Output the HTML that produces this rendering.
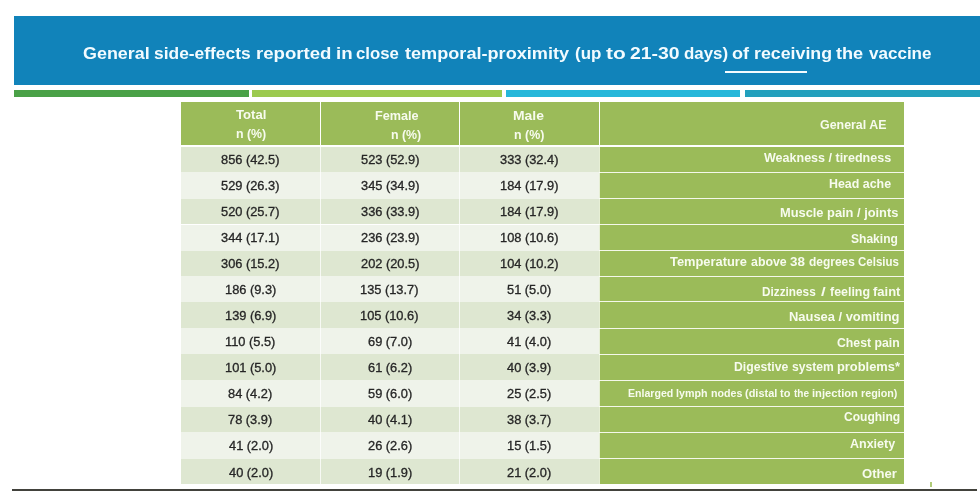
<!DOCTYPE html>
<html lang="en"><head><meta charset="utf-8"><title>General side-effects</title>
<style>
html,body{margin:0;padding:0;background:#fff;}
html{overflow:hidden;}
body{width:980px;height:501px;position:relative;overflow:hidden;font-family:"Liberation Sans",sans-serif;}
.b{position:absolute;}
.t,.w{position:absolute;white-space:nowrap;line-height:1;transform-origin:0 0;}
.lab{position:absolute;left:0;top:0;font-weight:bold;}
h1{margin:0;padding:0;position:absolute;left:0;top:0;font-size:17.2px;font-weight:bold;}
#s{position:absolute;left:0;top:0;width:1010px;height:530px;filter:blur(0.4px);}
</style></head><body><div id="s">
<div class="b" style="left:14px;top:16.3px;width:996px;height:68.4px;background:#1183ba"></div>
<div class="b" style="left:14px;top:89.8px;width:234.8px;height:7.2px;background:#4aa147"></div>
<div class="b" style="left:252.2px;top:89.8px;width:250.1px;height:7.2px;background:#9cca4f"></div>
<div class="b" style="left:506px;top:89.8px;width:234.2px;height:7.2px;background:#26b7da"></div>
<div class="b" style="left:745px;top:89.8px;width:265.0px;height:7.2px;background:#22a0bd"></div>
<div class="b" style="left:725.2px;top:70.6px;width:81.5px;height:2.7px;background:#f4fbff"></div>
<div class="b" style="left:181.1px;top:102.4px;width:723.2px;height:42.2px;background:#9bbb59"></div>
<div class="b" style="left:181.1px;top:147.30px;width:418.2px;height:24.90px;background:#dee7d1"></div>
<div class="b" style="left:181.1px;top:172.20px;width:418.2px;height:26.40px;background:#eff3ea"></div>
<div class="b" style="left:181.1px;top:198.60px;width:418.2px;height:25.90px;background:#dee7d1"></div>
<div class="b" style="left:181.1px;top:224.50px;width:418.2px;height:26.00px;background:#eff3ea"></div>
<div class="b" style="left:181.1px;top:250.50px;width:418.2px;height:25.70px;background:#dee7d1"></div>
<div class="b" style="left:181.1px;top:276.20px;width:418.2px;height:26.10px;background:#eff3ea"></div>
<div class="b" style="left:181.1px;top:302.30px;width:418.2px;height:25.70px;background:#dee7d1"></div>
<div class="b" style="left:181.1px;top:328.00px;width:418.2px;height:26.20px;background:#eff3ea"></div>
<div class="b" style="left:181.1px;top:354.20px;width:418.2px;height:26.10px;background:#dee7d1"></div>
<div class="b" style="left:181.1px;top:380.30px;width:418.2px;height:26.40px;background:#eff3ea"></div>
<div class="b" style="left:181.1px;top:406.70px;width:418.2px;height:25.30px;background:#dee7d1"></div>
<div class="b" style="left:181.1px;top:432.00px;width:418.2px;height:26.60px;background:#eff3ea"></div>
<div class="b" style="left:181.1px;top:458.60px;width:418.2px;height:25.10px;background:#dee7d1"></div>
<div class="b" style="left:599.3px;top:147.3px;width:305.0px;height:336.4px;background:#9bbb59"></div>
<div class="b" style="left:599.3px;top:171.5px;width:305.0px;height:1px;background:#f4f8ea"></div>
<div class="b" style="left:599.3px;top:198.0px;width:305.0px;height:1px;background:#f4f8ea"></div>
<div class="b" style="left:599.3px;top:224.2px;width:305.0px;height:1px;background:#f4f8ea"></div>
<div class="b" style="left:599.3px;top:250.1px;width:305.0px;height:1px;background:#f4f8ea"></div>
<div class="b" style="left:599.3px;top:275.9px;width:305.0px;height:1px;background:#f4f8ea"></div>
<div class="b" style="left:599.3px;top:301.4px;width:305.0px;height:1px;background:#f4f8ea"></div>
<div class="b" style="left:599.3px;top:327.6px;width:305.0px;height:1px;background:#f4f8ea"></div>
<div class="b" style="left:599.3px;top:353.9px;width:305.0px;height:1px;background:#f4f8ea"></div>
<div class="b" style="left:599.3px;top:379.8px;width:305.0px;height:1px;background:#f4f8ea"></div>
<div class="b" style="left:599.3px;top:405.8px;width:305.0px;height:1px;background:#f4f8ea"></div>
<div class="b" style="left:599.3px;top:431.5px;width:305.0px;height:1px;background:#f4f8ea"></div>
<div class="b" style="left:599.3px;top:457.9px;width:305.0px;height:1px;background:#f4f8ea"></div>
<div class="b" style="left:319.9px;top:102.4px;width:1.2px;height:44.9px;background:#fff"></div>
<div class="b" style="left:319.9px;top:147.3px;width:1.2px;height:336.4px;background:rgba(255,255,255,.75)"></div>
<div class="b" style="left:458.9px;top:102.4px;width:1.2px;height:44.9px;background:#fff"></div>
<div class="b" style="left:458.9px;top:147.3px;width:1.2px;height:336.4px;background:rgba(255,255,255,.75)"></div>
<div class="b" style="left:598.7px;top:102.4px;width:1.2px;height:44.9px;background:#fff"></div>
<div class="b" style="left:598.7px;top:147.3px;width:1.2px;height:336.4px;background:rgba(255,255,255,.75)"></div>
<h1 style="color:#f2fbff">
<span class="w" style="left:82.58px;top:45px;transform:scaleX(1.0420)">General</span> 
<span class="w" style="left:154.00px;top:45px;transform:scaleX(1.0121)">side-effects</span> 
<span class="w" style="left:255.90px;top:45px;transform:scaleX(1.0827)">reported</span> 
<span class="w" style="left:335.59px;top:45px;transform:scaleX(1.0863)">in</span> 
<span class="w" style="left:356.43px;top:45px;transform:scaleX(0.9752)">close</span> 
<span class="w" style="left:404.92px;top:45px;transform:scaleX(1.0541)">temporal-proximity</span> 
<span class="w" style="left:574.85px;top:45px;transform:scaleX(0.9836)">(up</span> 
<span class="w" style="left:606.49px;top:45px;transform:scaleX(1.2151)">to</span> 
<span class="w" style="left:630.32px;top:45px;transform:scaleX(1.1278)">21-30</span> 
<span class="w" style="left:684.12px;top:45px;transform:scaleX(0.9828)">days)</span> 
<span class="w" style="left:732.38px;top:45px;transform:scaleX(1.0530)">of</span> 
<span class="w" style="left:754.05px;top:45px;transform:scaleX(1.0342)">receiving</span> 
<span class="w" style="left:836.32px;top:45px;transform:scaleX(1.0553)">the</span> 
<span class="w" style="left:868.93px;top:45px;transform:scaleX(0.9909)">vaccine</span> 
</h1>
<div class="t" style="left:235.97px;top:109px;font-size:12px;font-weight:bold;color:#f7fbee;transform:scaleX(1.0949)">Total</div>
<div class="t" style="left:235.83px;top:128px;font-size:12px;font-weight:bold;color:#f7fbee;transform:scaleX(1.0309)">n (%)</div>
<div class="t" style="left:374.62px;top:110px;font-size:12px;font-weight:bold;color:#f7fbee;transform:scaleX(1.0529)">Female</div>
<div class="t" style="left:391.03px;top:129px;font-size:12px;font-weight:bold;color:#f7fbee;transform:scaleX(1.0309)">n (%)</div>
<div class="t" style="left:513.43px;top:110px;font-size:12px;font-weight:bold;color:#f7fbee;transform:scaleX(1.1596)">Male</div>
<div class="t" style="left:513.53px;top:129px;font-size:12px;font-weight:bold;color:#f7fbee;transform:scaleX(1.0345)">n (%)</div>
<div class="t" style="left:820.30px;top:119px;font-size:12px;font-weight:bold;color:#f7fbee;transform:scaleX(1.0338)">General AE</div>
<div class="t" style="left:764.00px;top:152px;font-size:12px;font-weight:bold;color:#f7fbee;transform:scaleX(1.0435)">Weakness / tiredness</div>
<div class="t" style="left:828.93px;top:178px;font-size:12px;font-weight:bold;color:#f7fbee;transform:scaleX(1.0340)">Head ache</div>
<div class="t" style="left:780.40px;top:207px;font-size:12px;font-weight:bold;color:#f7fbee;transform:scaleX(1.0693)">Muscle pain / joints</div>
<div class="t" style="left:850.74px;top:233px;font-size:12px;font-weight:bold;color:#f7fbee;transform:scaleX(1.0048)">Shaking</div>
<div class="lab" style="font-size:12px;color:#f7fbee">
<span class="w" style="left:669.67px;top:256px;transform:scaleX(1.0718)">Temperature</span> 
<span class="w" style="left:750.73px;top:256px;transform:scaleX(1.0306)">above</span> 
<span class="w" style="left:790.03px;top:256px;transform:scaleX(1.1164)">38</span> 
<span class="w" style="left:808.92px;top:256px;transform:scaleX(0.9956)">degrees</span> 
<span class="w" style="left:857.94px;top:256px;transform:scaleX(0.9582)">Celsius</span> 
</div>
<div class="lab" style="font-size:12px;color:#f7fbee">
<span class="w" style="left:762.38px;top:286px;transform:scaleX(0.9816)">Dizziness</span> 
<span class="w" style="left:820.75px;top:286px;transform:scaleX(1.4000)">/</span> 
<span class="w" style="left:829.75px;top:286px;transform:scaleX(1.0350)">feeling</span> 
<span class="w" style="left:872.64px;top:286px;transform:scaleX(1.0817)">faint</span> 
</div>
<div class="t" style="left:789.40px;top:311px;font-size:12px;font-weight:bold;color:#f7fbee;transform:scaleX(1.0758)">Nausea / vomiting</div>
<div class="t" style="left:836.71px;top:337px;font-size:12px;font-weight:bold;color:#f7fbee;transform:scaleX(1.0213)">Chest pain</div>
<div class="lab" style="font-size:12px;color:#f7fbee">
<span class="w" style="left:733.65px;top:361px;transform:scaleX(1.0177)">Digestive</span> 
<span class="w" style="left:791.51px;top:361px;transform:scaleX(1.0105)">system</span> 
<span class="w" style="left:836.50px;top:361px;transform:scaleX(1.0719)">problems*</span> 
</div>
<div class="lab" style="font-size:10.4px;color:#f7fbee">
<span class="w" style="left:628.16px;top:389px;transform:scaleX(1.0196)">Enlarged</span> 
<span class="w" style="left:675.55px;top:389px;transform:scaleX(1.0300)">lymph</span> 
<span class="w" style="left:710.75px;top:389px;transform:scaleX(1.0261)">nodes</span> 
<span class="w" style="left:744.65px;top:389px;transform:scaleX(1.0570)">(distal</span> 
<span class="w" style="left:779.89px;top:389px;transform:scaleX(1.0588)">to</span> 
<span class="w" style="left:793.80px;top:389px;transform:scaleX(0.9681)">the</span> 
<span class="w" style="left:812.32px;top:389px;transform:scaleX(1.0751)">injection</span> 
<span class="w" style="left:860.85px;top:389px;transform:scaleX(1.0351)">region)</span> 
</div>
<div class="t" style="left:843.52px;top:411px;font-size:12px;font-weight:bold;color:#f7fbee;transform:scaleX(1.0033)">Coughing</div>
<div class="t" style="left:849.93px;top:438px;font-size:12px;font-weight:bold;color:#f7fbee;transform:scaleX(1.0411)">Anxiety</div>
<div class="t" style="left:862.28px;top:468px;font-size:12px;font-weight:bold;color:#f7fbee;transform:scaleX(1.0920)">Other</div>
<div class="t" style="left:221.21px;top:154px;font-size:12px;font-weight:normal;color:#262626;-webkit-text-stroke:0.3px #262626;transform:scaleX(1.0680)">856 (42.5)</div>
<div class="t" style="left:360.71px;top:154px;font-size:12px;font-weight:normal;color:#262626;-webkit-text-stroke:0.3px #262626;transform:scaleX(1.0680)">523 (52.9)</div>
<div class="t" style="left:500.11px;top:154px;font-size:12px;font-weight:normal;color:#262626;-webkit-text-stroke:0.3px #262626;transform:scaleX(1.0680)">333 (32.4)</div>
<div class="t" style="left:221.21px;top:180px;font-size:12px;font-weight:normal;color:#262626;-webkit-text-stroke:0.3px #262626;transform:scaleX(1.0680)">529 (26.3)</div>
<div class="t" style="left:360.71px;top:180px;font-size:12px;font-weight:normal;color:#262626;-webkit-text-stroke:0.3px #262626;transform:scaleX(1.0680)">345 (34.9)</div>
<div class="t" style="left:499.85px;top:180px;font-size:12px;font-weight:normal;color:#262626;-webkit-text-stroke:0.3px #262626;transform:scaleX(1.0680)">184 (17.9)</div>
<div class="t" style="left:221.21px;top:206px;font-size:12px;font-weight:normal;color:#262626;-webkit-text-stroke:0.3px #262626;transform:scaleX(1.0680)">520 (25.7)</div>
<div class="t" style="left:360.71px;top:206px;font-size:12px;font-weight:normal;color:#262626;-webkit-text-stroke:0.3px #262626;transform:scaleX(1.0680)">336 (33.9)</div>
<div class="t" style="left:499.85px;top:206px;font-size:12px;font-weight:normal;color:#262626;-webkit-text-stroke:0.3px #262626;transform:scaleX(1.0680)">184 (17.9)</div>
<div class="t" style="left:221.21px;top:232px;font-size:12px;font-weight:normal;color:#262626;-webkit-text-stroke:0.3px #262626;transform:scaleX(1.0680)">344 (17.1)</div>
<div class="t" style="left:360.64px;top:232px;font-size:12px;font-weight:normal;color:#262626;-webkit-text-stroke:0.3px #262626;transform:scaleX(1.0680)">236 (23.9)</div>
<div class="t" style="left:499.85px;top:232px;font-size:12px;font-weight:normal;color:#262626;-webkit-text-stroke:0.3px #262626;transform:scaleX(1.0680)">108 (10.6)</div>
<div class="t" style="left:221.21px;top:258px;font-size:12px;font-weight:normal;color:#262626;-webkit-text-stroke:0.3px #262626;transform:scaleX(1.0680)">306 (15.2)</div>
<div class="t" style="left:360.64px;top:258px;font-size:12px;font-weight:normal;color:#262626;-webkit-text-stroke:0.3px #262626;transform:scaleX(1.0680)">202 (20.5)</div>
<div class="t" style="left:499.85px;top:258px;font-size:12px;font-weight:normal;color:#262626;-webkit-text-stroke:0.3px #262626;transform:scaleX(1.0680)">104 (10.2)</div>
<div class="t" style="left:224.54px;top:284px;font-size:12px;font-weight:normal;color:#262626;-webkit-text-stroke:0.3px #262626;transform:scaleX(1.0680)">186 (9.3)</div>
<div class="t" style="left:360.45px;top:284px;font-size:12px;font-weight:normal;color:#262626;-webkit-text-stroke:0.3px #262626;transform:scaleX(1.0680)">135 (13.7)</div>
<div class="t" style="left:507.28px;top:284px;font-size:12px;font-weight:normal;color:#262626;-webkit-text-stroke:0.3px #262626;transform:scaleX(1.0680)">51 (5.0)</div>
<div class="t" style="left:224.54px;top:310px;font-size:12px;font-weight:normal;color:#262626;-webkit-text-stroke:0.3px #262626;transform:scaleX(1.0680)">139 (6.9)</div>
<div class="t" style="left:360.45px;top:310px;font-size:12px;font-weight:normal;color:#262626;-webkit-text-stroke:0.3px #262626;transform:scaleX(1.0680)">105 (10.6)</div>
<div class="t" style="left:507.28px;top:310px;font-size:12px;font-weight:normal;color:#262626;-webkit-text-stroke:0.3px #262626;transform:scaleX(1.0680)">34 (3.3)</div>
<div class="t" style="left:224.99px;top:336px;font-size:12px;font-weight:normal;color:#262626;-webkit-text-stroke:0.3px #262626;transform:scaleX(1.0680)">110 (5.5)</div>
<div class="t" style="left:367.82px;top:336px;font-size:12px;font-weight:normal;color:#262626;-webkit-text-stroke:0.3px #262626;transform:scaleX(1.0680)">69 (7.0)</div>
<div class="t" style="left:507.41px;top:336px;font-size:12px;font-weight:normal;color:#262626;-webkit-text-stroke:0.3px #262626;transform:scaleX(1.0680)">41 (4.0)</div>
<div class="t" style="left:224.54px;top:362px;font-size:12px;font-weight:normal;color:#262626;-webkit-text-stroke:0.3px #262626;transform:scaleX(1.0680)">101 (5.0)</div>
<div class="t" style="left:367.82px;top:362px;font-size:12px;font-weight:normal;color:#262626;-webkit-text-stroke:0.3px #262626;transform:scaleX(1.0680)">61 (6.2)</div>
<div class="t" style="left:507.41px;top:362px;font-size:12px;font-weight:normal;color:#262626;-webkit-text-stroke:0.3px #262626;transform:scaleX(1.0680)">40 (3.9)</div>
<div class="t" style="left:228.38px;top:388px;font-size:12px;font-weight:normal;color:#262626;-webkit-text-stroke:0.3px #262626;transform:scaleX(1.0680)">84 (4.2)</div>
<div class="t" style="left:367.88px;top:388px;font-size:12px;font-weight:normal;color:#262626;-webkit-text-stroke:0.3px #262626;transform:scaleX(1.0680)">59 (6.0)</div>
<div class="t" style="left:507.22px;top:388px;font-size:12px;font-weight:normal;color:#262626;-webkit-text-stroke:0.3px #262626;transform:scaleX(1.0680)">25 (2.5)</div>
<div class="t" style="left:228.32px;top:414px;font-size:12px;font-weight:normal;color:#262626;-webkit-text-stroke:0.3px #262626;transform:scaleX(1.0680)">78 (3.9)</div>
<div class="t" style="left:368.01px;top:414px;font-size:12px;font-weight:normal;color:#262626;-webkit-text-stroke:0.3px #262626;transform:scaleX(1.0680)">40 (4.1)</div>
<div class="t" style="left:507.28px;top:414px;font-size:12px;font-weight:normal;color:#262626;-webkit-text-stroke:0.3px #262626;transform:scaleX(1.0680)">38 (3.7)</div>
<div class="t" style="left:228.51px;top:440px;font-size:12px;font-weight:normal;color:#262626;-webkit-text-stroke:0.3px #262626;transform:scaleX(1.0680)">41 (2.0)</div>
<div class="t" style="left:367.82px;top:440px;font-size:12px;font-weight:normal;color:#262626;-webkit-text-stroke:0.3px #262626;transform:scaleX(1.0680)">26 (2.6)</div>
<div class="t" style="left:507.03px;top:440px;font-size:12px;font-weight:normal;color:#262626;-webkit-text-stroke:0.3px #262626;transform:scaleX(1.0680)">15 (1.5)</div>
<div class="t" style="left:228.51px;top:467px;font-size:12px;font-weight:normal;color:#262626;-webkit-text-stroke:0.3px #262626;transform:scaleX(1.0680)">40 (2.0)</div>
<div class="t" style="left:367.63px;top:467px;font-size:12px;font-weight:normal;color:#262626;-webkit-text-stroke:0.3px #262626;transform:scaleX(1.0680)">19 (1.9)</div>
<div class="t" style="left:507.22px;top:467px;font-size:12px;font-weight:normal;color:#262626;-webkit-text-stroke:0.3px #262626;transform:scaleX(1.0680)">21 (2.0)</div>
<div class="b" style="left:11.8px;top:488.7px;width:965.5px;height:2.4px;background:#42423c"></div>
<div class="b" style="left:929.5px;top:482.2px;width:2.2px;height:4.6px;background:#b0cb78"></div>
</div></body></html>
